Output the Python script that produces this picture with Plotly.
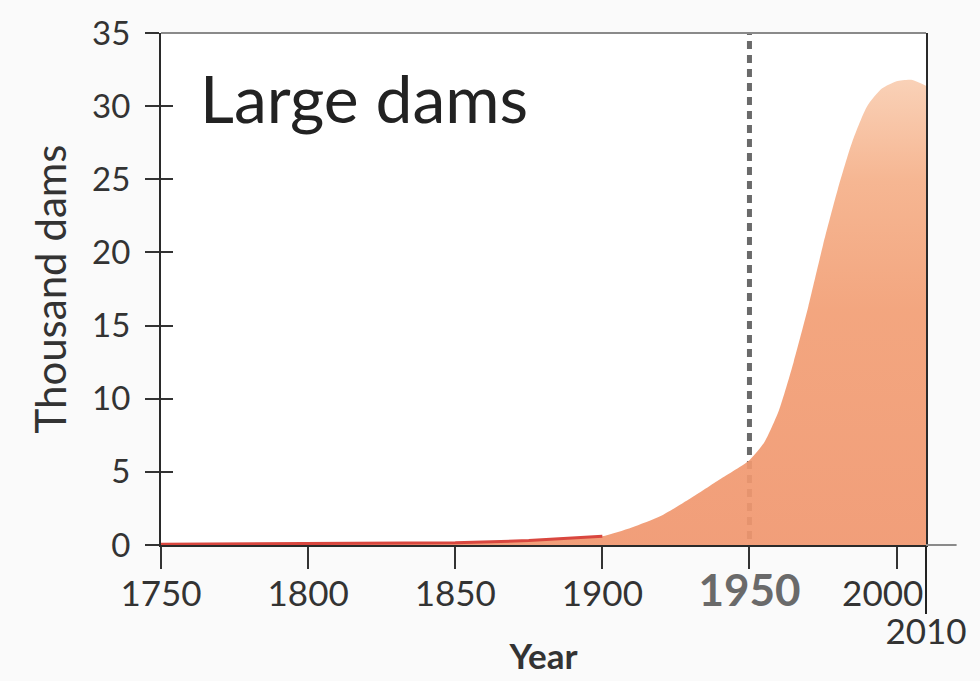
import plotly.graph_objects as go

# ---- data ----
years = [1750, 1800, 1850, 1875, 1890, 1900, 1910, 1920, 1930, 1940, 1950,
         1955, 1960, 1965, 1970, 1975, 1980, 1985, 1990, 1995, 2000, 2005, 2010]
thousand_dams = [0.05, 0.08, 0.15, 0.3, 0.45, 0.6, 1.2, 2.0, 3.2, 4.5, 5.8,
                 7.0, 9.2, 12.5, 16.3, 20.5, 24.3, 27.6, 30.0, 31.2, 31.7, 31.8, 31.4]
x_ticks = [1750, 1800, 1850, 1900, 1950, 2000]
y_ticks = [0, 5, 10, 15, 20, 25, 30, 35]
ref_year = 1950
end_year = 2010
title_text = "Large dams"

FONT = "Lato, 'Open Sans', sans-serif"

x_ticktext = []
for t in x_ticks:
    if t == ref_year:
        x_ticktext.append("<b><span style='color:#6a6a6a;font-size:44px'>%d</span></b>" % t)
    elif t == 2000:
        x_ticktext.append("%d\u2007\u2008" % t)
    else:
        x_ticktext.append(str(t))

fig = go.Figure()

# reference (1950) dashed line, drawn beneath the area
fig.add_trace(go.Scatter(
    x=[ref_year, ref_year], y=[-1.5, 35], mode="lines",
    line=dict(color="#6a6a6a", width=5, dash="8px,6px"),
    hoverinfo="skip", showlegend=False, cliponaxis=False))

# main area
fig.add_trace(go.Scatter(
    x=years, y=thousand_dams, mode="lines", fill="tozeroy",
    line=dict(width=0, color="#F29E74", shape="spline", smoothing=0.6),
    fillgradient=dict(type="vertical", start=0, stop=32,
                      colorscale=[[0, "rgba(240,150,110,0.92)"],
                                  [0.5, "rgba(242,158,116,0.92)"],
                                  [0.78, "rgba(245,176,137,0.92)"],
                                  [1, "rgba(249,206,178,0.92)"]]),
    showlegend=False))

# red outline of the early, near-zero stretch
n_early = years.index(1900) + 1
fig.add_trace(go.Scatter(
    x=years[:n_early], y=thousand_dams[:n_early], mode="lines",
    line=dict(color="#D9473F", width=3),
    showlegend=False))

# invisible trace so the secondary axes are drawn
fig.add_trace(go.Scatter(
    x=[end_year], y=[0], xaxis="x2", yaxis="y2", mode="markers",
    marker=dict(opacity=0), hoverinfo="skip", showlegend=False))

fig.update_layout(
    xaxis2=dict(overlaying="x", anchor="y", side="bottom", range=[1750, end_year],
                tickmode="array", tickvals=[end_year], ticktext=[str(end_year)],
                ticks="outside", ticklen=68, tickwidth=2, tickcolor="#222",
                ticklabelstandoff=-12,
                showgrid=False, zeroline=False, showline=False, automargin=False,
                tickfont=dict(family=FONT, size=35, color="#333")),
    yaxis2=dict(overlaying="y", anchor="x", side="left", range=[0, 35],
                tickmode="array", tickvals=y_ticks, ticks="inside", ticklen=12,
                tickwidth=2, tickcolor="#333", showticklabels=False, automargin=False,
                showgrid=False, zeroline=False, showline=False),
)

fig.update_layout(
    width=980, height=681,
    margin=dict(l=161, r=54, t=33, b=136),
    paper_bgcolor="#fafafa", plot_bgcolor="#ffffff",
    font=dict(family=FONT, color="#333"),
    xaxis=dict(range=[1750, end_year], tickmode="array", tickvals=x_ticks,
               ticktext=x_ticktext, ticks="outside", ticklen=22, tickwidth=2,
               tickcolor="#333", showline=True, linecolor="#2a2a2a", linewidth=2,
               ticklabelstandoff=-5,
               showgrid=False, zeroline=False, automargin=False,
               tickfont=dict(family=FONT, size=35, color="#333"),
               title=dict(text="<b>Year</b>", font=dict(family=FONT, size=35, color="#333"),
                          standoff=30)),
    yaxis=dict(range=[0, 35], tickmode="array", tickvals=y_ticks,
               ticks="outside", ticklen=14, tickwidth=2, tickcolor="#333",
               showline=True, linecolor="#2a2a2a", linewidth=2, mirror=True,
               ticklabelstandoff=8,
               showgrid=False, zeroline=False, automargin=False,
               tickfont=dict(family=FONT, size=33, color="#333"),
               title=dict(text="Thousand dams", font=dict(family=FONT, size=42, color="#333"),
                          standoff=12)),
    shapes=[
        dict(type="line", xref="paper", yref="paper", x0=0, x1=1, y0=1, y1=1,
             line=dict(color="#8a8a8a", width=2)),
        dict(type="line", xref="paper", yref="paper", x0=1, x1=1.04, y0=0, y1=0,
             line=dict(color="#8a8a8a", width=2)),
    ],
    annotations=[
        dict(text=title_text, xref="paper", yref="paper", x=0.048, y=0.875,
             xanchor="left", yanchor="middle", showarrow=False,
             font=dict(family=FONT, size=66, color="#222")),
    ],
)

fig.write_html("out.html", config={"displayModeBar": False},
               post_script="document.body.style.margin='0';")
